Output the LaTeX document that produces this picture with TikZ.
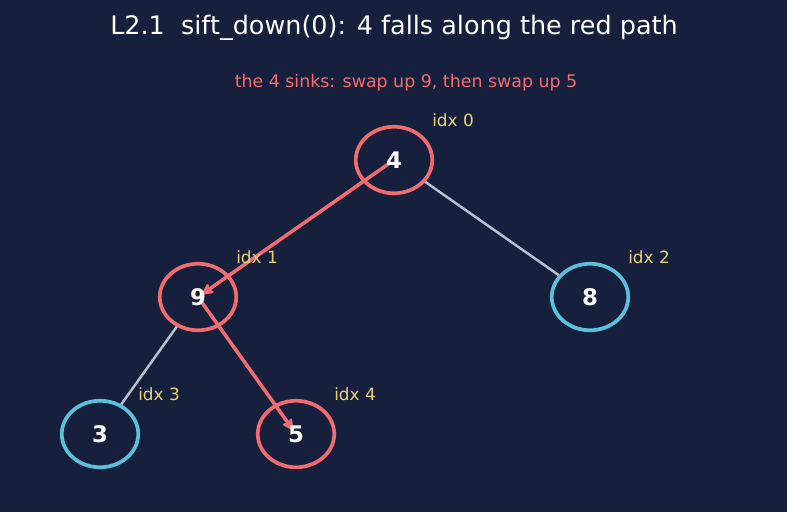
\documentclass[tikz,border=0pt]{standalone}
\usepackage{fontspec}
\setmainfont{DejaVu Sans}
\usepackage{xcolor}
\usetikzlibrary{arrows.meta}
\usetikzlibrary{shapes.geometric, calc}
\definecolor{bgnavy}{HTML}{16203D}
\definecolor{pathred}{HTML}{F26B6E}
\definecolor{keepcyan}{HTML}{5BC0DA}
\definecolor{edgegray}{HTML}{B8BFD0}
\definecolor{idxgold}{HTML}{E8D27A}
\tikzset{
heapnode/.style={ellipse,draw,line width=2.1pt,minimum width=1.53cm,minimum height=1.33cm,inner sep=0pt,text=white,font=\bfseries\fontsize{13}{15}\selectfont},
moved/.style={heapnode,draw=pathred},
stayed/.style={heapnode,draw=keepcyan},
idxlabel/.style={text=idxgold,font=\fontsize{9.6}{11}\selectfont},
treeedge/.style={draw=edgegray,line width=1.4pt},
sinkarrow/.style={draw=pathred,line width=2pt,-{Stealth[length=8pt,width=8pt,inset=2.5pt,round]},shorten <=2pt,shorten >=3pt}
}
\begin{document}
\begin{tikzpicture}[x=0.02cm,y=-0.02cm]
\fill[bgnavy] (0,0) rectangle (787,512);
\useasboundingbox (0,0) rectangle (787,512);

\node[text=white,font=\fontsize{14.5}{18}\selectfont] (title) at (394,28) {L2.1\ \ sift\_down(0): 4 falls along the red path};
\node[text=pathred,font=\fontsize{9.9}{12}\selectfont] (subtitle) at (406,83) {the 4 sinks: swap up 9, then swap up 5};

\coordinate (P4) at (394,160);
\coordinate (P9) at (198,297);
\coordinate (P8) at (590,297);
\coordinate (P3) at (100,434);
\coordinate (P5) at (296,434);

%the red path, under the keys
\draw[sinkarrow] (P4) -- (P9);
\draw[sinkarrow] (P9) -- (P5);

\node[moved] (n4) at (P4) {4};
\node[moved] (n9) at (P9) {9};
\node[stayed] (n8) at (P8) {8};
\node[stayed] (n3) at (P3) {3};
\node[moved] (n5) at (P5) {5};

%tree edges
\draw[treeedge] (n4) -- (n8);
\draw[treeedge] (n9) -- (n3);

%array positions
\node[idxlabel] (i0) at ($(P4)+(59,-40)$) {idx 0};
\node[idxlabel] (i1) at ($(P9)+(59,-40)$) {idx 1};
\node[idxlabel] (i2) at ($(P8)+(59,-40)$) {idx 2};
\node[idxlabel] (i3) at ($(P3)+(59,-40)$) {idx 3};
\node[idxlabel] (i4) at ($(P5)+(59,-40)$) {idx 4};
\end{tikzpicture}
\end{document}
